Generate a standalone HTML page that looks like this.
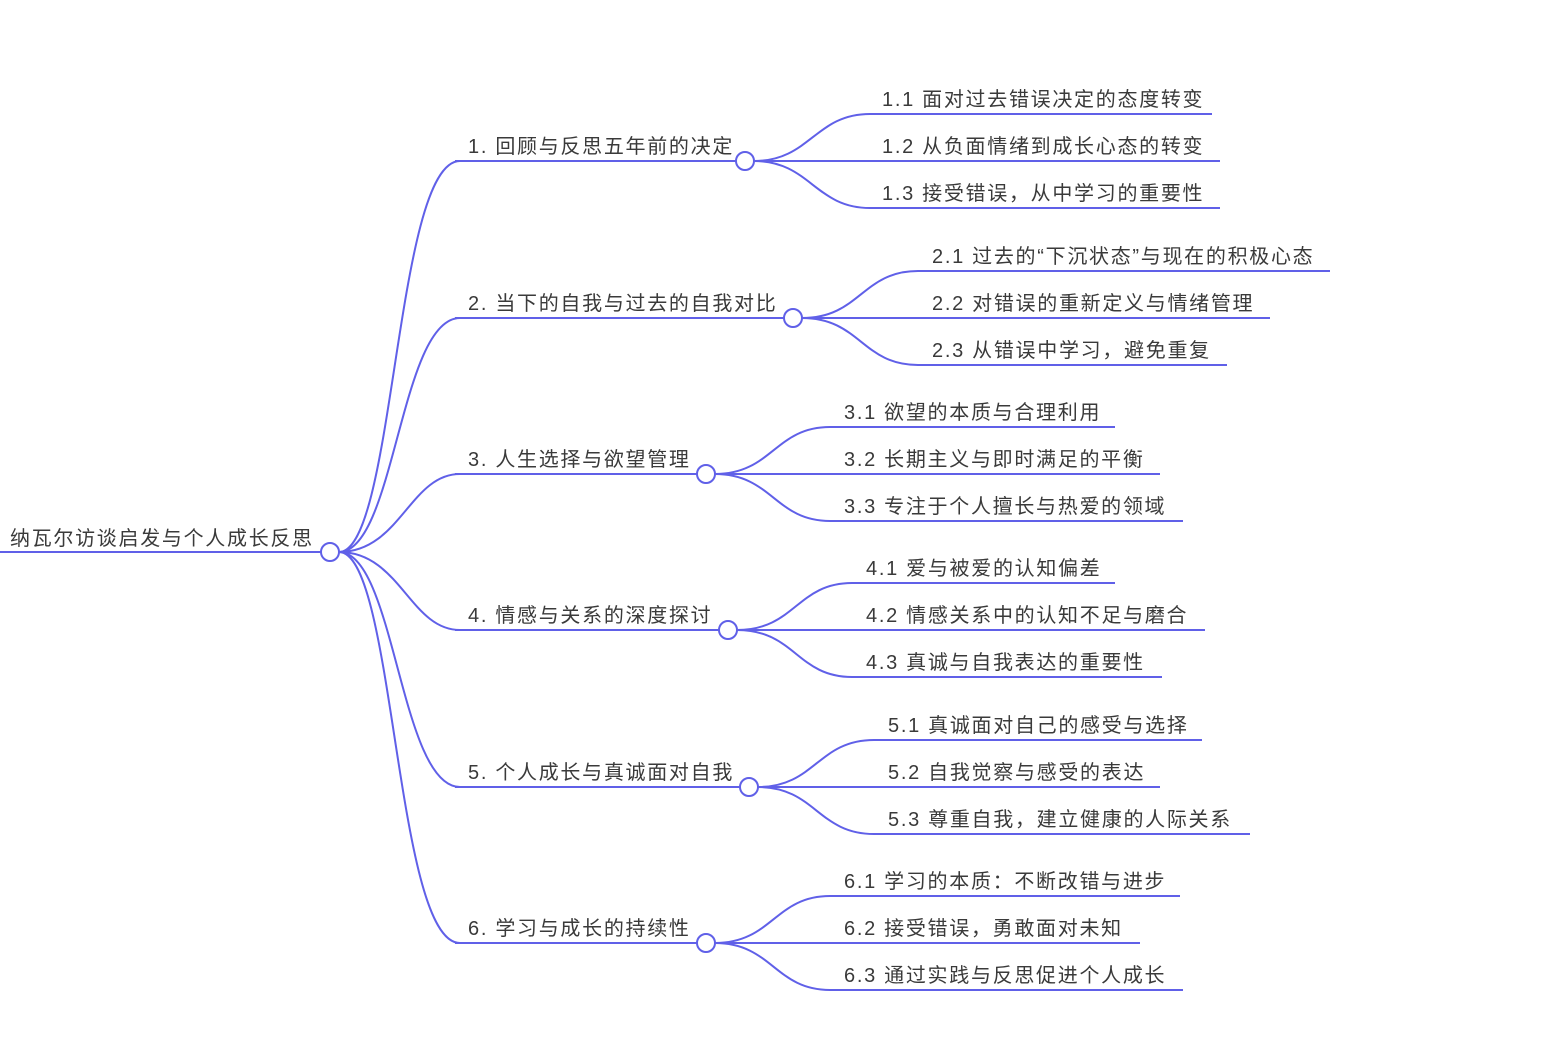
<!DOCTYPE html>
<html><head><meta charset="utf-8"><style>
html,body{margin:0;padding:0;background:#fff;}
svg text{font-family:"Liberation Sans","Noto Sans CJK SC",sans-serif;font-size:20px;fill:#3a3a3a;letter-spacing:1.7px;}
</style></head><body>
<svg width="1552" height="1032" viewBox="0 0 1552 1032" xmlns="http://www.w3.org/2000/svg">
<g fill="none" stroke="#6060e8" stroke-width="2">
<line x1="0" y1="552" x2="322" y2="552"/>
<path d="M339,552 C395,552 395,161 460,161"/>
<path d="M339,552 C395,552 400,318 460,318"/>
<path d="M339,552 C400,552 410,474 460,474"/>
<path d="M339,552 C400,552 410,630 460,630"/>
<path d="M339,552 C395,552 400,787 460,787"/>
<path d="M339,552 C395,552 395,943 460,943"/>
<line x1="455" y1="161" x2="736" y2="161"/>
<line x1="455" y1="318" x2="784" y2="318"/>
<line x1="455" y1="474" x2="697" y2="474"/>
<line x1="455" y1="630" x2="719" y2="630"/>
<line x1="455" y1="787" x2="740" y2="787"/>
<line x1="455" y1="943" x2="697" y2="943"/>
<path d="M754,161 C810,161 815,114 870,114 L1212,114"/>
<path d="M754,161 L1220,161"/>
<path d="M754,161 C810,161 815,208 870,208 L1220,208"/>
<path d="M802,318 C860,318 862,271 918,271 L1330,271"/>
<path d="M802,318 L1270,318"/>
<path d="M802,318 C860,318 862,365 918,365 L1227,365"/>
<path d="M715,474 C772,474 775,427 830,427 L1115,427"/>
<path d="M715,474 L1160,474"/>
<path d="M715,474 C772,474 775,521 830,521 L1183,521"/>
<path d="M737,630 C795,630 797,583 852,583 L1115,583"/>
<path d="M737,630 L1205,630"/>
<path d="M737,630 C795,630 797,677 852,677 L1162,677"/>
<path d="M758,787 C815,787 818,740 874,740 L1202,740"/>
<path d="M758,787 L1160,787"/>
<path d="M758,787 C815,787 818,834 874,834 L1250,834"/>
<path d="M715,943 C772,943 775,896 830,896 L1180,896"/>
<path d="M715,943 L1140,943"/>
<path d="M715,943 C772,943 775,990 830,990 L1183,990"/>
</g>
<g fill="#fff" stroke="#6060e8" stroke-width="2">
<circle cx="330" cy="552" r="9"/>
<circle cx="745" cy="161" r="9"/>
<circle cx="793" cy="318" r="9"/>
<circle cx="706" cy="474" r="9"/>
<circle cx="728" cy="630" r="9"/>
<circle cx="749" cy="787" r="9"/>
<circle cx="706" cy="943" r="9"/>
</g>
<text x="10" y="545">纳瓦尔访谈启发与个人成长反思</text>
<text x="468" y="153">1. 回顾与反思五年前的决定</text>
<text x="468" y="310">2. 当下的自我与过去的自我对比</text>
<text x="468" y="466">3. 人生选择与欲望管理</text>
<text x="468" y="622">4. 情感与关系的深度探讨</text>
<text x="468" y="779">5. 个人成长与真诚面对自我</text>
<text x="468" y="935">6. 学习与成长的持续性</text>

<text x="882" y="106">1.1 面对过去错误决定的态度转变</text>
<text x="882" y="153">1.2 从负面情绪到成长心态的转变</text>
<text x="882" y="200">1.3 接受错误，从中学习的重要性</text>
<text x="932" y="263">2.1 过去的“下沉状态”与现在的积极心态</text>
<text x="932" y="310">2.2 对错误的重新定义与情绪管理</text>
<text x="932" y="357">2.3 从错误中学习，避免重复</text>
<text x="844" y="419">3.1 欲望的本质与合理利用</text>
<text x="844" y="466">3.2 长期主义与即时满足的平衡</text>
<text x="844" y="513">3.3 专注于个人擅长与热爱的领域</text>
<text x="866" y="575">4.1 爱与被爱的认知偏差</text>
<text x="866" y="622">4.2 情感关系中的认知不足与磨合</text>
<text x="866" y="669">4.3 真诚与自我表达的重要性</text>
<text x="888" y="732">5.1 真诚面对自己的感受与选择</text>
<text x="888" y="779">5.2 自我觉察与感受的表达</text>
<text x="888" y="826">5.3 尊重自我，建立健康的人际关系</text>
<text x="844" y="888">6.1 学习的本质：不断改错与进步</text>
<text x="844" y="935">6.2 接受错误，勇敢面对未知</text>
<text x="844" y="982">6.3 通过实践与反思促进个人成长</text>
</svg>
</body></html>
